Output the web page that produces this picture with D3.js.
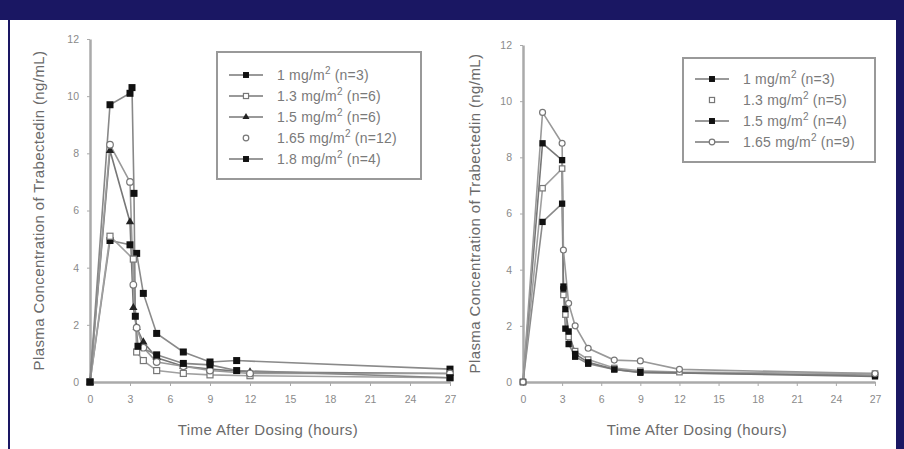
<!DOCTYPE html>
<html lang="en">
<head>
    <meta charset="UTF-8">
    <title>Trabectedin plasma concentration</title>
    <script src="https://d3js.org/d3.v7.min.js"></script>
    <style>
        body { margin: 0; background: #fff; }
        svg { display: block; }
        text { font-family: "Liberation Sans", Arial, sans-serif; }
        .tick text { fill: #8a8a8a; font-size: 10.5px; }
        .domain, .tick line { stroke: #aaa; }
        .title { fill: #6a6a6a; font-size: 15px; letter-spacing: 0.4px; }
        .leg { fill: #7a7a7a; font-size: 14px; letter-spacing: 0.2px; }
    </style>
</head>
<body>
<script>
// ---- data (hours, ng/mL) ----
const xTicks = [0, 3, 6, 9, 12, 15, 18, 21, 24, 27];
const yTicks = [0, 2, 4, 6, 8, 10, 12];

// left panel
const leftDoses = ["1", "1.3", "1.5", "1.65", "1.8"];
const leftN = ["3", "6", "6", "12", "4"];
const leftMarks = ["fsquare", "osquare", "triangle", "ocircle", "fsquare"];
const leftLegendLine = [true, true, true, false, true];
const l1T = [0, 1.5, 3, 3.5, 4, 5, 7, 9, 11, 27];
const l1V = [0, 4.95, 4.8, 4.5, 3.1, 1.7, 1.05, 0.7, 0.75, 0.45];
const l2T = [0, 1.5, 3.25, 3.5, 4, 5, 7, 9, 12, 27];
const l2V = [0, 5.1, 4.3, 1.05, 0.75, 0.4, 0.3, 0.25, 0.22, 0.15];
const l3T = [0, 1.5, 3, 3.25, 3.5, 4, 5, 7, 9, 12, 27];
const l3V = [0, 8.1, 5.6, 2.6, 1.9, 1.4, 0.85, 0.55, 0.45, 0.35, 0.3];
const l4T = [0, 1.5, 3, 3.25, 3.5, 4, 5, 7, 9, 12, 27];
const l4V = [0, 8.3, 7.0, 3.4, 1.9, 1.2, 0.7, 0.55, 0.4, 0.3, 0.3];
const l5T = [0, 1.5, 3, 3.15, 3.3, 3.4, 3.6, 5, 7, 9, 11, 27];
const l5V = [0, 9.7, 10.1, 10.3, 6.6, 2.3, 1.25, 0.95, 0.65, 0.6, 0.4, 0.15];

// right panel
const rightDoses = ["1", "1.3", "1.5", "1.65"];
const rightN = ["3", "5", "4", "9"];
const rightMarks = ["fsquare", "osquare", "fsquare", "ocircle"];
const rightLegendLine = [true, false, true, true];
const r1T = [0, 1.5, 3, 3.1, 3.25, 3.5, 4, 5, 7, 9, 27];
const r1V = [0, 5.7, 6.35, 3.3, 1.9, 1.35, 0.9, 0.65, 0.45, 0.33, 0.25];
const r2T = [0, 1.5, 3, 3.1, 3.25, 3.5, 4, 5, 7, 9, 12, 27];
const r2V = [0, 6.9, 7.6, 3.1, 2.4, 1.6, 1.1, 0.8, 0.5, 0.4, 0.35, 0.3];
const r3T = [0, 1.5, 3, 3.1, 3.25, 3.5, 4, 5, 7, 9, 27];
const r3V = [0, 8.5, 7.9, 3.4, 2.6, 1.8, 1.0, 0.7, 0.45, 0.35, 0.2];
const r4T = [0, 1.5, 3, 3.1, 3.5, 4, 5, 7, 9, 12, 27];
const r4V = [0, 9.6, 8.5, 4.7, 2.8, 2.0, 1.2, 0.78, 0.75, 0.45, 0.3];

const W = 904, H = 449;
const svg = d3.select("body").append("svg").attr("width", W).attr("height", H);

// frame
svg.append("rect").attr("x", 0).attr("y", 0).attr("width", W).attr("height", 20).attr("fill", "#1a1763");
svg.append("rect").attr("x", 8).attr("y", 20).attr("width", 2).attr("height", H - 20).attr("fill", "#1a1763");
svg.append("rect").attr("x", 896).attr("y", 20).attr("width", 8).attr("height", H - 20).attr("fill", "#1a1763");

const zip = (t, v) => t.map((d, i) => ({t: d, v: v[i]}));

function drawMarker(g, kind, x, y, s) {
    s = s || 1;
    if (kind === "fsquare") {
        g.append("rect").attr("x", x - 3.5 * s).attr("y", y - 3.5 * s).attr("width", 7 * s).attr("height", 7 * s)
         .attr("fill", "#111");
    } else if (kind === "osquare") {
        g.append("rect").attr("x", x - 3 * s).attr("y", y - 3 * s).attr("width", 6 * s).attr("height", 6 * s)
         .attr("fill", "#fff").attr("stroke", "#777").attr("stroke-width", 1.2);
    } else if (kind === "triangle") {
        g.append("path").attr("d", d3.symbol(d3.symbolTriangle, 30 * s * s)())
         .attr("transform", `translate(${x},${y})`).attr("fill", "#222");
    } else {
        g.append("circle").attr("cx", x).attr("cy", y).attr("r", 3.3 * s)
         .attr("fill", "#fff").attr("stroke", "#777").attr("stroke-width", 1.2);
    }
}

function panel(cfg) {
    const x = d3.scaleLinear().domain([0, 27]).range(cfg.xr);
    const y = d3.scaleLinear().domain([0, 12]).range(cfg.yr);
    const g = svg.append("g");

    g.append("g").attr("transform", `translate(0,${cfg.yr[0]})`)
     .call(d3.axisBottom(x).tickValues(xTicks).tickSize(4).tickSizeOuter(0).tickPadding(10))
     .call(a => a.select(".domain").attr("stroke-width", 2.5));
    g.append("g").attr("transform", `translate(${cfg.xr[0]},0)`)
     .call(d3.axisLeft(y).tickValues(yTicks).tickSize(3).tickSizeOuter(0).tickPadding(8))
     .call(a => a.select(".domain").attr("stroke-width", 2.5));

    g.append("text").attr("class", "title")
     .attr("x", (cfg.xr[0] + cfg.xr[1]) / 2 - 2).attr("y", 435).attr("text-anchor", "middle")
     .text("Time After Dosing (hours)");
    g.append("text").attr("class", "title")
     .attr("transform", `translate(${cfg.ytx},${(cfg.yr[0] + cfg.yr[1]) / 2}) rotate(-90)`)
     .attr("text-anchor", "middle")
     .text("Plasma Concentration of Trabectedin (ng/mL)");

    const line = d3.line().x(d => x(d.t)).y(d => y(d.v));
    const greys = ["#8a8a8a", "#a0a0a0", "#777", "#999", "#888"];
    cfg.series.forEach((s, i) => {
        g.append("path").datum(s).attr("d", line).attr("fill", "none")
         .attr("stroke", greys[i]).attr("stroke-width", 1.6);
    });
    cfg.series.forEach((s, i) => {
        s.forEach(d => drawMarker(g, cfg.marks[i], x(d.t), y(d.v), cfg.ms));
    });

    // legend
    const lb = cfg.legend;
    g.append("rect").attr("x", lb.x).attr("y", lb.y).attr("width", lb.w).attr("height", lb.h)
     .attr("fill", "#fff").attr("stroke", "#999").attr("stroke-width", 2);
    cfg.doses.forEach((d, i) => {
        const yy = lb.y + lb.first + i * lb.step;
        if (cfg.legLine[i]) {
            g.append("line").attr("x1", lb.x + 12).attr("x2", lb.x + 46).attr("y1", yy).attr("y2", yy)
             .attr("stroke", "#777").attr("stroke-width", 1.5);
        }
        drawMarker(g, cfg.marks[i], lb.x + 29, yy, 0.85);
        const t = g.append("text").attr("class", "leg").attr("x", lb.x + 60).attr("y", yy + 5);
        t.append("tspan").text(`${d} mg/m`);
        t.append("tspan").attr("dy", -6).attr("font-size", "10px").text("2");
        t.append("tspan").attr("dy", 6).text(` (n=${cfg.ns[i]})`);
    });
}

panel({
    xr: [90, 450], yr: [382, 39], ytx: 44, ms: 1,
    series: [zip(l1T, l1V), zip(l2T, l2V), zip(l3T, l3V), zip(l4T, l4V), zip(l5T, l5V)],
    marks: leftMarks, doses: leftDoses, ns: leftN, legLine: leftLegendLine,
    legend: {x: 217, y: 52, w: 204, h: 127, first: 23, step: 21}
});
panel({
    xr: [523, 875], yr: [382, 45], ytx: 480, ms: 0.9,
    series: [zip(r1T, r1V), zip(r2T, r2V), zip(r3T, r3V), zip(r4T, r4V)],
    marks: rightMarks, doses: rightDoses, ns: rightN, legLine: rightLegendLine,
    legend: {x: 683, y: 58, w: 192, h: 104, first: 21, step: 21}
});
</script>
</body>
</html>
